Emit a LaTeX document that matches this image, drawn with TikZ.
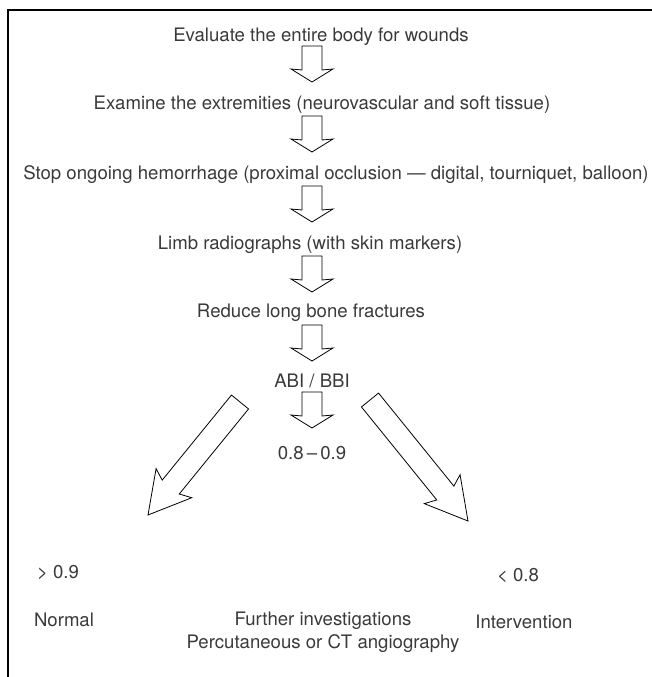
\documentclass[tikz,border=0pt]{standalone}
\usepackage{fontspec}
\setmainfont{TeX Gyre Heros}
\definecolor{txtgray}{HTML}{3A3A3A}
\newcommand\barrow[7]{%
  \draw[arrowline, shift={#1}, rotate=#2] (0,#4) -- (#3-#6,#4) -- (#3-#6-#7,#5) -- (#3,0) -- (#3-#6-#7,-#5) -- (#3-#6,-#4) -- (0,-#4) -- cycle;}
\begin{document}
\begin{tikzpicture}[x=1pt,y=1pt,
  lbl/.style={inner sep=0pt, text=txtgray, font=\fontsize{18.6}{23}\selectfont, align=center},
  arrowline/.style={draw=black, line width=0.8pt, line join=miter},
  frame/.style={draw=black, line width=1.1pt}]
\useasboundingbox (0,0) rectangle (652,-677);
\draw[frame] (8,-677) -- (8,-10) -- (652,-10);

\node[lbl] (t1) at (321,-37) {Evaluate the entire body for wounds};
\node[lbl] (t2) at (322,-105) {Examine the extremities (neurovascular and soft tissue)};
\node[lbl] (t3) at (336,-175) {Stop ongoing hemorrhage (proximal occlusion — digital, tourniquet, balloon)};
\node[lbl] (t4) at (310,-245) {Limb radiographs (with skin markers)};
\node[lbl] (t5) at (311,-313) {Reduce long bone fractures};
\node[lbl] (t6) at (312,-381) {ABI / BBI};
\node[lbl] (mid) at (312,-453) {0.8\,–\,0.9};
\node[lbl] (gt) at (58,-573) {> 0.9};
\node[lbl] (lt) at (518,-576) {< 0.8};
\node[lbl] (normal) at (64,-620) {Normal};
\node[lbl] (further) at (323,-632) {Further investigations\\Percutaneous or CT angiography};
\node[lbl] (interv) at (524,-622) {Intervention};

% down block arrows
\barrow{(312,-46)}{-90}{36}{10}{21}{12}{1}
\barrow{(312,-116)}{-90}{36}{10}{21}{12}{1}
\barrow{(312,-186)}{-90}{36}{10}{21}{12}{1}
\barrow{(312,-256)}{-90}{36}{10}{21}{12}{1}
\barrow{(312,-325)}{-90}{36}{10}{21}{12}{1}
\barrow{(312,-392)}{-90}{36}{10}{21}{12}{1}
% diagonal block arrows
\barrow{(240,-402)}{230.85}{145.7}{11}{23}{36}{5}
\barrow{(370,-400)}{-51.0}{155.7}{11}{23}{36}{5}
\end{tikzpicture}
\end{document}
